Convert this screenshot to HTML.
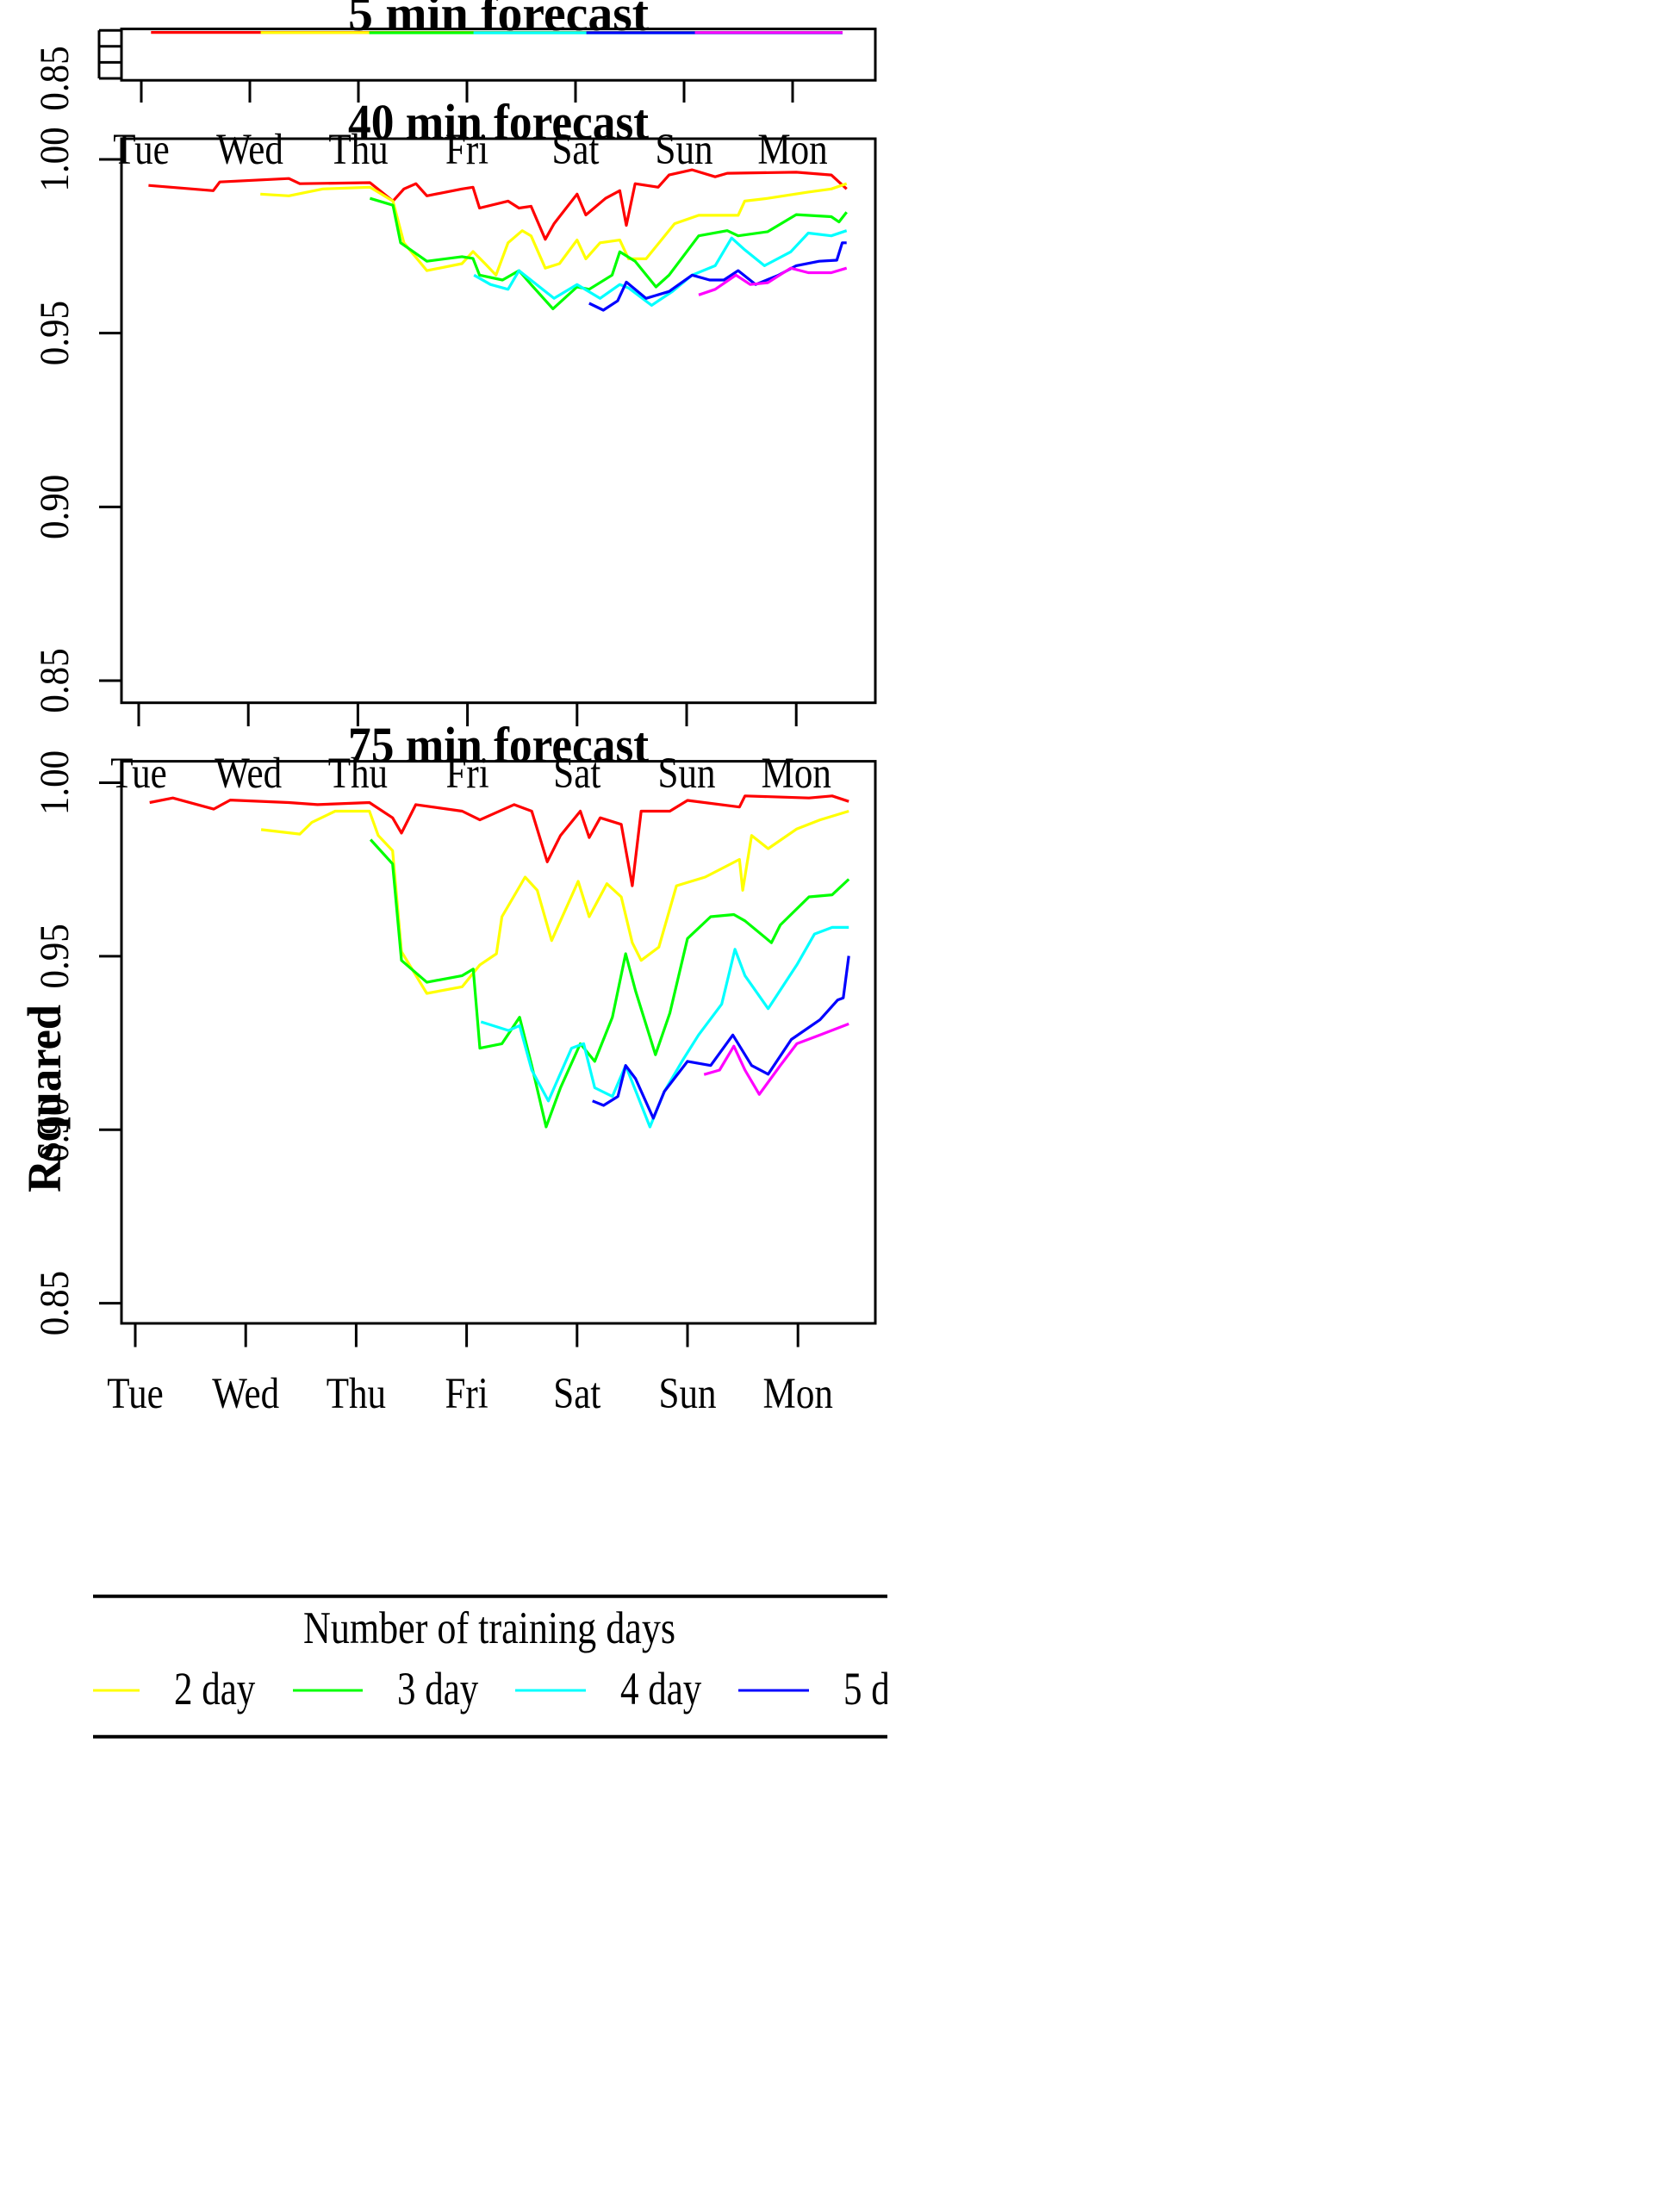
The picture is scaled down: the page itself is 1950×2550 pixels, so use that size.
<!DOCTYPE html>
<html><head><meta charset="utf-8"><style>
html,body{margin:0;padding:0;background:#fff;}
svg{display:block;font-family:"Liberation Serif",serif;}
</style></head><body>
<svg id="chart" width="1950" height="2550" viewBox="0 0 1950 2550" xmlns="http://www.w3.org/2000/svg">
<rect x="0" y="0" width="1950" height="2550" fill="#fff"/>
<g id="layer"></g>
<g id="legend" clip-path="url(#legclip)"></g>
<defs><clipPath id="legclip"><rect x="106" y="1800" width="924" height="300"/></clipPath></defs>
</svg>
<script>
const days = ["Tue","Wed","Thu","Fri","Sat","Sun","Mon"];
const yTicks = [1.00,0.95,0.90,0.85];
const yTickLabels = ["1.00","0.95","0.90","0.85"];
const seriesNames = ["1 day","2 day","3 day","4 day","5 day","6 day"];
const seriesColors = ["#ff0000","#ffff00","#00ff00","#00ffff","#0000ff","#ff00ff"];

// 5 min forecast
const m5RedX=[0.09,6.46], m5RedY=[0.9935,0.9935];
const m5YelX=[1.1,6.46], m5YelY=[0.993,0.993];
const m5GrnX=[2.1,6.46], m5GrnY=[0.9925,0.9925];
const m5CyaX=[3.06,6.46], m5CyaY=[0.9925,0.9925];
const m5BluX=[4.1,6.46], m5BluY=[0.9925,0.9925];
const m5MagX=[5.1,6.46], m5MagY=[0.993,0.993];

// 40 min forecast
const m40RedX=[0.09,0.68,0.74,1.37,1.47,2.11,2.32,2.42,2.53,2.63,2.95,3.05,3.11,3.37,3.47,3.58,3.71,3.79,4.0,4.08,4.26,4.39,4.45,4.53,4.74,4.84,5.05,5.26,5.37,6.0,6.32,6.46];
const m40RedY=[.9925,.991,.9935,.9945,.993,.9933,.988,.9915,.993,.9895,.9915,.992,.986,.988,.986,.9865,.977,.9815,.990,.984,.9888,.991,.981,.993,.992,.9955,.997,.995,.996,.9963,.9955,.9915];
const m40YelX=[1.11,1.37,1.68,2.11,2.32,2.42,2.63,2.95,3.05,3.16,3.26,3.37,3.5,3.58,3.71,3.84,4.0,4.08,4.21,4.39,4.47,4.63,4.89,5.11,5.47,5.53,5.74,6.11,6.32,6.46];
const m40YelY=[.990,.9895,.9915,.992,.988,.976,.968,.970,.9735,.970,.9667,.976,.9795,.978,.9687,.970,.9768,.9714,.976,.9768,.9714,.9714,.9815,.9839,.9839,.988,.9888,.9906,.9915,.993];
const m40GrnX=[2.11,2.32,2.39,2.63,2.95,3.05,3.11,3.32,3.47,3.58,3.78,4.0,4.11,4.32,4.39,4.53,4.72,4.84,5.11,5.37,5.47,5.74,6.0,6.32,6.39,6.46];
const m40GrnY=[.9888,.9868,.976,.9707,.972,.9715,.9667,.9653,.968,.964,.957,.9633,.9626,.9667,.9734,.9707,.9633,.9667,.978,.9795,.978,.9792,.9841,.9835,.982,.9848];
const m40CyaX=[3.06,3.21,3.37,3.47,3.79,4.0,4.21,4.39,4.47,4.68,4.87,5.05,5.26,5.41,5.53,5.71,5.95,6.11,6.32,6.46];
const m40CyaY=[.9667,.964,.9626,.968,.960,.964,.960,.964,.963,.958,.962,.9667,.9694,.9774,.974,.9694,.9734,.9788,.978,.9795];
const m40BluX=[4.11,4.24,4.37,4.45,4.63,4.84,5.05,5.21,5.34,5.47,5.63,5.84,6.0,6.21,6.37,6.42,6.46];
const m40BluY=[.9586,.9566,.9593,.9647,.960,.962,.9667,.9653,.9653,.968,.964,.9667,.9694,.9707,.971,.976,.976];
const m40MagX=[5.11,5.26,5.45,5.58,5.74,5.95,6.11,6.32,6.46];
const m40MagY=[.961,.9626,.9667,.964,.9645,.9687,.9674,.9674,.9687];

// 75 min forecast
const m75RedX=[.13,.34,.71,.86,1.39,1.65,2.12,2.33,2.41,2.54,2.96,3.12,3.43,3.59,3.73,3.85,4.03,4.11,4.21,4.4,4.5,4.58,4.84,5.0,5.47,5.52,6.1,6.31,6.46];
const m75RedY=[.9943,.9956,.9924,.995,.9943,.9937,.9943,.9899,.9855,.9937,.9918,.9893,.9937,.9918,.9772,.9848,.9918,.9842,.9899,.988,.9703,.9918,.9918,.9949,.993,.9962,.9956,.9962,.9946];
const m75YelX=[1.14,1.49,1.6,1.81,2.12,2.2,2.33,2.41,2.64,2.96,3.12,3.27,3.32,3.53,3.64,3.77,4.01,4.11,4.27,4.4,4.5,4.58,4.74,4.9,5.16,5.47,5.5,5.58,5.73,5.99,6.2,6.46];
const m75YelY=[.9865,.9852,.9886,.9918,.9918,.9848,.9804,.9513,.9393,.9412,.9475,.9507,.9614,.9728,.969,.9545,.9716,.9614,.9709,.9671,.9539,.9488,.9526,.9703,.9728,.9779,.969,.9848,.981,.9867,.9893,.9918];
const m75GrnX=[2.13,2.33,2.41,2.64,2.96,3.06,3.12,3.32,3.48,3.59,3.72,3.85,4.03,4.16,4.32,4.44,4.53,4.71,4.84,5.0,5.21,5.42,5.52,5.76,5.84,6.1,6.31,6.46];
const m75GrnY=[.9836,.9766,.9488,.9425,.9444,.9463,.9235,.9248,.9324,.9185,.9008,.9121,.9248,.9197,.9324,.9507,.940,.9216,.9336,.9551,.9614,.962,.9602,.9539,.959,.9671,.9677,.9722];
const m75CyaX=[3.13,3.38,3.48,3.59,3.74,3.95,4.06,4.16,4.32,4.44,4.66,4.79,4.95,5.1,5.31,5.43,5.52,5.73,5.99,6.15,6.31,6.46];
const m75CyaY=[.9311,.9286,.930,.9172,.9083,.9235,.9248,.9121,.9096,.9185,.9008,.911,.9197,.9273,.9362,.952,.9444,.9349,.9475,.9564,.9583,.9583];
const m75BluX=[4.14,4.24,4.37,4.44,4.53,4.69,4.79,5.0,5.21,5.41,5.58,5.73,5.94,6.2,6.36,6.41,6.46];
const m75BluY=[.9083,.907,.9096,.9185,.9147,.9033,.911,.9197,.9185,.9273,.9185,.916,.926,.9317,.9374,.938,.9501];
const m75MagX=[5.15,5.29,5.42,5.52,5.65,5.84,5.99,6.2,6.46];
const m75MagY=[.9159,.9172,.9241,.9172,.9102,.9185,.9248,.9273,.9305];

const NS="http://www.w3.org/2000/svg";
const layer=document.getElementById('layer');
function mk(tag,attrs,parent){const e=document.createElementNS(NS,tag);for(const k in attrs)e.setAttribute(k,attrs[k]);(parent||layer).appendChild(e);return e;}

const panels=[
 {key:"5min",title:"5 min forecast",box:[141,33.6,1016,93.2],x0:164,dx:126,y100:35.2,y085:91,tickEnd:119,titleY:35,
  series:[[m5RedX,m5RedY],[m5YelX,m5YelY],[m5GrnX,m5GrnY],[m5CyaX,m5CyaY],[m5BluX,m5BluY],[m5MagX,m5MagY]],labels:[0.85],dayLabelY:190},
 {key:"40min",title:"40 min forecast",box:[141,161,1016,815.7],x0:161,dx:127.2,y100:185,y085:790,tickEnd:843,titleY:161,
  series:[[m40RedX,m40RedY],[m40YelX,m40YelY],[m40GrnX,m40GrnY],[m40CyaX,m40CyaY],[m40BluX,m40BluY],[m40MagX,m40MagY]],labels:null,dayLabelY:914},
 {key:"75min",title:"75 min forecast",box:[141,883.6,1016,1536],x0:157,dx:128.2,y100:908.5,y085:1512.6,tickEnd:1563.5,titleY:884,
  series:[[m75RedX,m75RedY],[m75YelX,m75YelY],[m75GrnX,m75GrnY],[m75CyaX,m75CyaY],[m75BluX,m75BluY],[m75MagX,m75MagY]],labels:null,dayLabelY:1634}
];

panels.forEach(p=>{
  const g=mk('g',{});
  
  
  const xs=d=>p.x0+d*p.dx;
  const ys=v=>p.y100+(1-v)/0.15*(p.y085-p.y100);
  const [l,t,r,b]=p.box;
  p.series.forEach((s,i)=>{
    const pts=s[0].map((d,j)=>xs(d).toFixed(1)+","+ys(s[1][j]).toFixed(1)).join(" ");
    const pl=mk('polyline',{points:pts,fill:"none",stroke:seriesColors[i],"stroke-width":3.2,"stroke-linejoin":"round"},g);
    
    
  });
  const bx=mk('rect',{x:l,y:t,width:r-l,height:b-t,fill:"none",stroke:"#000","stroke-width":3},g);
  
  
  const ya=mk('g',{},g);
  
  
  yTicks.forEach((v,i)=>{
    mk('line',{x1:115,x2:l,y1:ys(v),y2:ys(v),stroke:"#000","stroke-width":3},ya);
    if(p.labels===null||p.labels.indexOf(v)>=0){
      const tx=mk('text',{x:0,y:0,transform:`translate(79,${ys(v)}) rotate(-90) scale(1,1.12)`,"text-anchor":"middle","font-size":43},ya);
      
      
      tx.textContent=yTickLabels[i];
    }
  });
  if(p.key==="5min") mk('line',{x1:115,x2:115,y1:ys(1),y2:ys(0.85),stroke:"#000","stroke-width":3},ya);
  const xa=mk('g',{},g);
  
  
  days.forEach((d,i)=>{
    mk('line',{x1:xs(i),x2:xs(i),y1:b,y2:p.tickEnd,stroke:"#000","stroke-width":3},xa);
    const tx=mk('text',{x:0,y:0,transform:`translate(${xs(i)},${p.dayLabelY}) scale(1.05,1.25)`,"text-anchor":"middle","font-size":41},xa);
    
    
    tx.textContent=d;
  });
  const tt=mk('text',{x:0,y:0,transform:`translate(578.5,${p.titleY}) scale(1,1.1)`,"text-anchor":"middle","font-size":53,"font-weight":"bold",textLength:349,lengthAdjust:"spacingAndGlyphs"},g);
  
  
  tt.textContent=p.title;
});

const yt=mk('text',{x:0,y:0,transform:"translate(70,1275) rotate(-90) scale(1,1.1)","text-anchor":"middle","font-size":50,"font-weight":"bold",textLength:218,lengthAdjust:"spacingAndGlyphs"});


yt.textContent="Rsquared";

// legend
const lg=document.getElementById('legend');
mk('line',{x1:108,x2:1030,y1:1852.8,y2:1852.8,stroke:"#000","stroke-width":4},lg);
mk('line',{x1:108,x2:1030,y1:2015.8,y2:2015.8,stroke:"#000","stroke-width":4},lg);
const ltl=mk('text',{x:0,y:0,transform:"translate(568,1907) scale(1,1.25)","text-anchor":"middle","font-size":42,textLength:432,lengthAdjust:"spacingAndGlyphs"},lg);


ltl.textContent="Number of training days";
const legStart=[-150,108,340,598,857,1115];
const legLineEnd=[-70,162,421,680,939,1197];
seriesNames.forEach((n,i)=>{
  const eg=mk('g',{},lg);
  
  
  mk('line',{x1:legStart[i],x2:legLineEnd[i],y1:1962,y2:1962,stroke:seriesColors[i],"stroke-width":3},eg);
  const tx=mk('text',{x:0,y:0,transform:`translate(${legLineEnd[i]+40},1978) scale(1,1.25)`,"font-size":43},eg);
  tx.textContent=n;
});
</script>
</body></html>
